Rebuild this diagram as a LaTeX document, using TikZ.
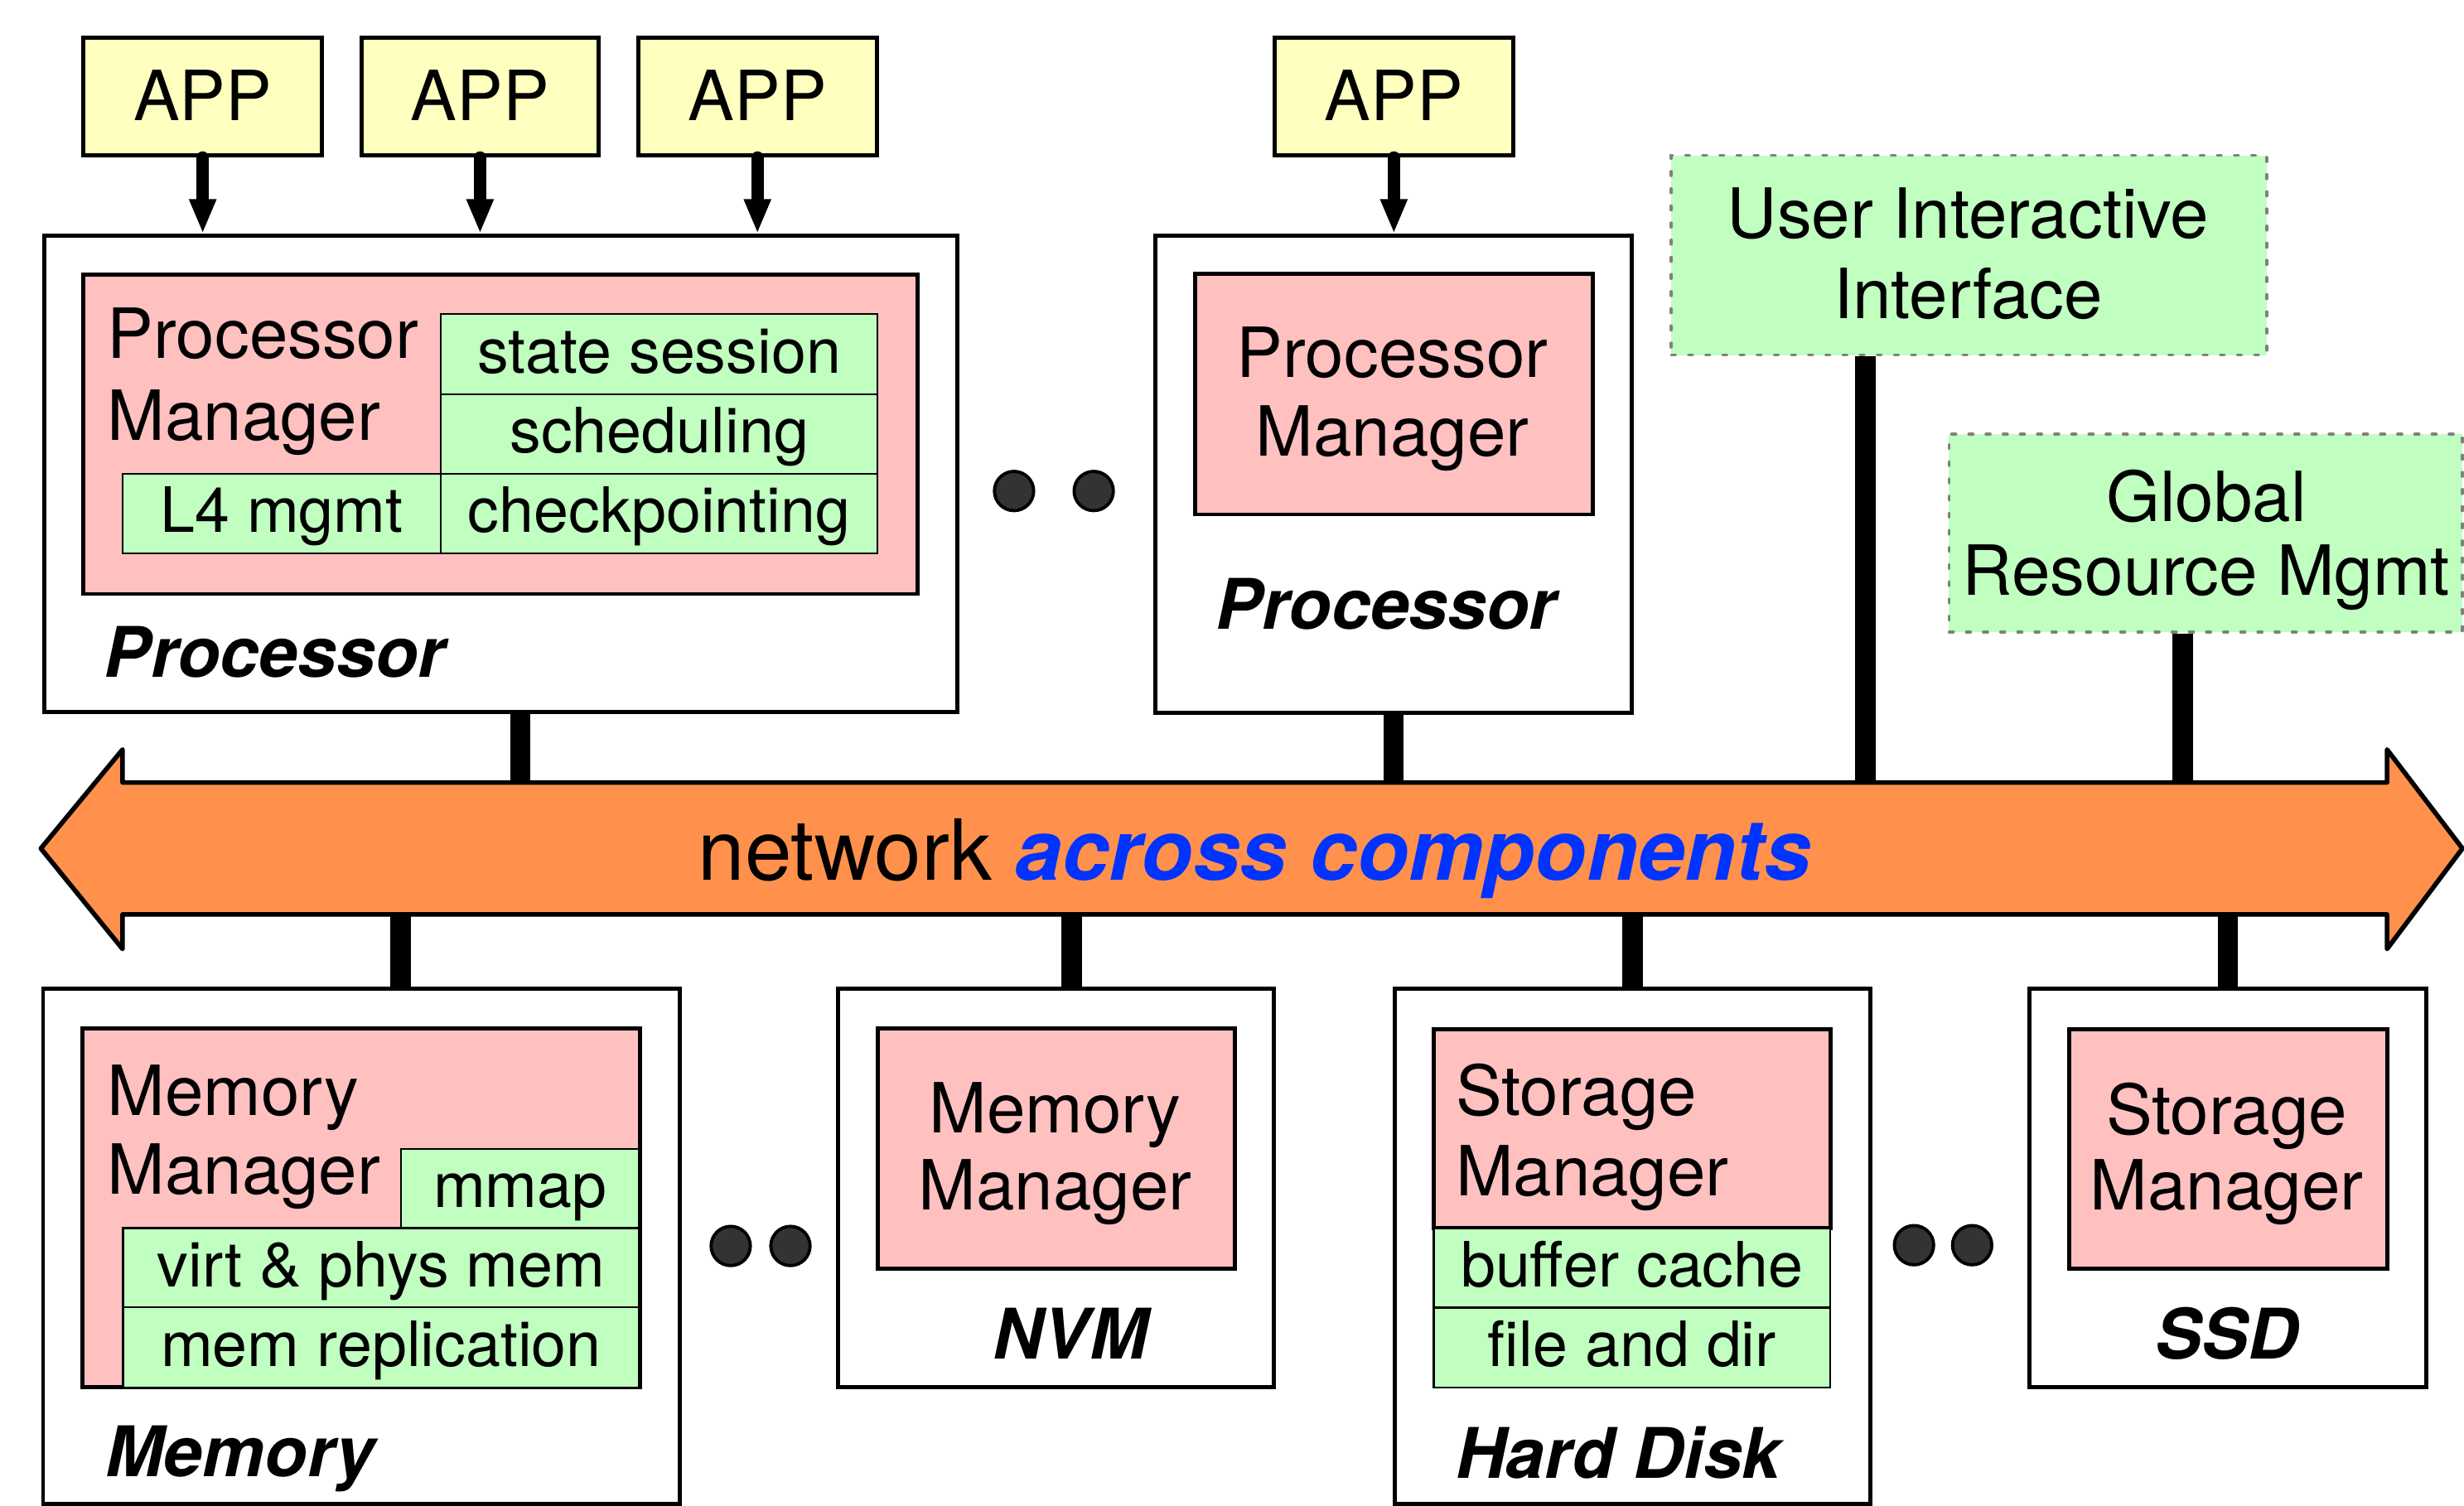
\documentclass[tikz,border=0pt]{standalone}
\usepackage{fontspec}
\setmainfont{TeX Gyre Heros}
\usetikzlibrary{fit,arrows.meta}
\definecolor{appyellow}{RGB}{255,255,192}
\definecolor{pinkfill}{RGB}{255,192,192}
\definecolor{greenfill}{RGB}{192,255,192}
\definecolor{netorange}{RGB}{255,145,77}
\definecolor{netblue}{RGB}{0,51,255}
\definecolor{dotgray}{RGB}{51,51,51}
\definecolor{dashgray}{RGB}{128,128,128}
\newcommand{\mainfs}{\fontsize{23.8pt}{27.6pt}\selectfont}
\newcommand{\cellfs}{\fontsize{21.5pt}{25pt}\selectfont}
\newcommand{\netfs}{\fontsize{29pt}{33pt}\selectfont}
\newcommand{\labfs}{\fontsize{24pt}{28pt}\selectfont}
\begin{document}
\begin{tikzpicture}[x=0.019cm,y=-0.019cm,
 box/.style={draw=black,line width=1.4pt,inner sep=0pt},
 appbox/.style={box,fill=appyellow},
 compbox/.style={box,fill=white},
 mgrbox/.style={box,fill=pinkfill},
 cellbox/.style={draw=black,line width=0.6pt,fill=greenfill,inner sep=0pt},
 ctrlbox/.style={draw=dashgray,line width=0.95pt,dash pattern=on 1.5pt off 4.4pt,line cap=round,fill=greenfill,inner sep=0pt},
 txt/.style={inner sep=0pt,font=\mainfs},
 apptxt/.style={inner sep=0pt,font=\mainfs,anchor=base,yshift=-8.1pt},
 celltxt/.style={inner sep=0pt,font=\cellfs,anchor=base,yshift=-6.5pt},
 lab/.style={inner sep=0pt,font=\labfs\bfseries\itshape},
 apparrow/.style={line width=4.3pt,line cap=round,-{Triangle[width=8.6pt,length=11.9pt]}},
 bar/.style={line width=7pt},
 dotn/.style={circle,draw=black,line width=1.1pt,fill=dotgray,minimum size=13.5pt,inner sep=0pt},
 netarrow/.style={draw=black,line width=1.6pt,fill=netorange,line join=round}
]
\useasboundingbox (0,0) rectangle (1568,958);

% network
\draw[netarrow] (26,540) -- (78,477) -- (78,498) -- (1519,498) -- (1519,477) -- (1567,540) -- (1519,604) -- (1519,582) -- (78,582) -- (78,604) -- cycle;
\node[fit={(78,498) (1519,582)},inner sep=0pt] (net) {};
\node[anchor=base,inner sep=0pt,font=\netfs] (netlabel) at (798.5,560) {network \textcolor{netblue}{\bfseries\itshape across components}};

% APP boxes
\node[appbox,fit={(53,24) (205,99)}] (app1) {};
\node[appbox,fit={(230,24) (381,99)}] (app2) {};
\node[appbox,fit={(406,24) (558,99)}] (app3) {};
\node[appbox,fit={(811,24) (963,99)}] (app4) {};
\node[apptxt] (app1t) at (app1.center) {APP};
\node[apptxt] (app2t) at (app2.center) {APP};
\node[apptxt] (app3t) at (app3.center) {APP};
\node[apptxt] (app4t) at (app4.center) {APP};

% Processor 1
\node[compbox,fit={(28,150) (609,453)}] (p1) {};
\node[mgrbox,fit={(53,175) (584,378)}] (pm1) {};
\node[cellbox,fit={(280.5,200) (558.5,251)}] (ss) {};
\node[cellbox,fit={(280.5,251) (558.5,301.5)}] (sch) {};
\node[cellbox,fit={(280.5,301.5) (558.5,352)}] (cp) {};
\node[cellbox,fit={(78,301.5) (280.5,352)}] (l4) {};
\node[celltxt] (sst) at (ss.center) {state session};
\node[celltxt] (scht) at (sch.center) {scheduling};
\node[celltxt] (cpt) at (cp.center) {checkpointing};
\node[celltxt] (l4t) at (l4.center) {L4 mgmt};
\node[txt,anchor=base west] (pm1a) at (68,228) {Processor};
\node[txt,anchor=base west] (pm1b) at (68,280) {Manager};
\node[lab,anchor=base west] (p1lab) at (66,431) {Processor};

% dots top
\node[dotn] (d1) at (645.3,312.5) {};
\node[dotn] (d2) at (696,312.5) {};

% Processor 2
\node[compbox,fit={(735,150) (1038.5,453.5)}] (p2) {};
\node[mgrbox,fit={(760.3,174.3) (1013.4,327.4)}] (pm2) {};
\node[txt,anchor=base] (pm2a) at (886,240.4) {Processor};
\node[txt,anchor=base] (pm2b) at (886,290) {Manager};
\node[lab,anchor=base] (p2lab) at (882,400.5) {Processor};

% control boxes
\node[ctrlbox,fit={(1063.5,99) (1442.5,226)}] (uii) {};
\node[txt,anchor=base] (uiia) at (1252.5,151.7) {User Interactive};
\node[txt,anchor=base] (uiib) at (1252.5,202.8) {Interface};
\node[ctrlbox,fit={(1240.3,276.3) (1567,402.3)}] (grm) {};
\node[txt,anchor=base] (grma) at (1404,332) {Global};
\node[txt,anchor=base] (grmb) at (1404,379) {Resource Mgmt};

% Memory
\node[compbox,fit={(27.4,629.4) (432.5,957)}] (mem) {};
\node[mgrbox,fit={(52.5,654.6) (407.5,883)}] (mm1) {};
\node[cellbox,fit={(255.4,731.2) (406.7,781.6)}] (mmap) {};
\node[cellbox,fit={(78.3,781.6) (406.7,832)}] (virt) {};
\node[cellbox,fit={(78.3,832) (406.7,883)}] (repl) {};
\node[celltxt] (mmapt) at (mmap.center) {mmap};
\node[celltxt] (virtt) at (virt.center) {virt \& phys mem};
\node[celltxt] (replt) at (repl.center) {mem replication};
\node[txt,anchor=base west] (mm1a) at (68,709.7) {Memory};
\node[txt,anchor=base west] (mm1b) at (68,760) {Manager};
\node[lab,anchor=base west] (memlab) at (67,940) {Memory};

\node[dotn] (d3) at (465,793) {};
\node[dotn] (d4) at (503,793) {};

% NVM
\node[compbox,fit={(533.4,629.4) (810.5,883)}] (nvm) {};
\node[mgrbox,fit={(558.4,654.6) (786,807.5)}] (mm2) {};
\node[txt,anchor=base] (mm2a) at (671.5,721) {Memory};
\node[txt,anchor=base] (mm2b) at (671.5,770) {Manager};
\node[lab,anchor=base] (nvmlab) at (681,865) {NVM};

% Hard disk
\node[compbox,fit={(887.4,629.4) (1190.4,957)}] (hd) {};
\node[mgrbox,fit={(912.4,655) (1164.7,781.6)}] (sm1) {};
\node[cellbox,fit={(912.4,781.6) (1164.7,832.2)}] (buf) {};
\node[cellbox,fit={(912.4,832.2) (1164.7,883.3)}] (fdir) {};
\node[celltxt] (buft) at (buf.center) {buffer cache};
\node[celltxt] (fdirt) at (fdir.center) {file and dir};
\node[txt,anchor=base west] (sm1a) at (926,710) {Storage};
\node[txt,anchor=base west] (sm1b) at (926,761) {Manager};
\node[lab,anchor=base west] (hdlab) at (926,940.6) {Hard Disk};

\node[dotn] (d5) at (1218,792.5) {};
\node[dotn] (d6) at (1255,792.5) {};

% SSD
\node[compbox,fit={(1291.5,629.4) (1544,883)}] (ssd) {};
\node[mgrbox,fit={(1316.9,655) (1519,807.5)}] (sm2) {};
\node[txt,anchor=base] (sm2a) at (1417,722) {Storage};
\node[txt,anchor=base] (sm2b) at (1417,770) {Manager};
\node[lab,anchor=base] (ssdlab) at (1417,865) {SSD};

% APP arrows
\draw[apparrow] (app1.south) -- (app1.south |- p1.north);
\draw[apparrow] (app2.south) -- (app2.south |- p1.north);
\draw[apparrow] (app3.south) -- (app3.south |- p1.north);
\draw[apparrow] (app4.south) -- (app4.south |- p2.north);

% bars
\coordinate (tp1) at (331,0);
\coordinate (tuii) at (1187,0);
\coordinate (tgrm) at (1389,0);
\coordinate (tmem) at (255,0);
\coordinate (tnvm) at (682,0);
\draw[bar] (tp1 |- p1.south) -- (tp1 |- net.north);
\draw[bar] (p2.south) -- (p2.south |- net.north);
\draw[bar] (tuii |- uii.south) -- (tuii |- net.north);
\draw[bar] (tgrm |- grm.south) -- (tgrm |- net.north);
\draw[bar] (tmem |- net.south) -- (tmem |- mem.north);
\draw[bar] (tnvm |- net.south) -- (tnvm |- nvm.north);
\draw[bar] (hd.north |- net.south) -- (hd.north);
\draw[bar] (ssd.north |- net.south) -- (ssd.north);
\end{tikzpicture}
\end{document}
